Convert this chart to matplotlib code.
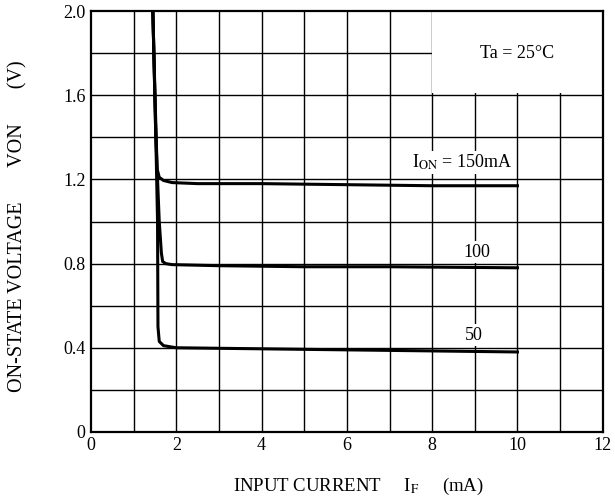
import matplotlib
matplotlib.use("Agg")
from matplotlib import pyplot as plt
from matplotlib.patches import Rectangle

plt.rcParams['font.family'] = ['Liberation Serif', 'DejaVu Serif']
plt.rcParams['mathtext.fontset'] = 'stix'

# on-state voltage vs input current
if_150 = [1.45, 1.5, 1.55, 1.6, 1.7, 1.9, 2.5, 4, 6, 8, 10]
von_150 = [2.0, 1.6, 1.25, 1.21, 1.195, 1.185, 1.18, 1.18, 1.175, 1.17, 1.17]

if_100 = [1.45, 1.52, 1.6, 1.65, 1.68, 1.75, 1.9, 3, 5, 7, 10]
von_100 = [2.0, 1.4, 1.0, 0.85, 0.81, 0.80, 0.795, 0.79, 0.785, 0.785, 0.78]

if_50 = [1.45, 1.52, 1.56, 1.57, 1.6, 1.7, 2.0, 4, 6, 8, 10]
von_50 = [2.0, 1.4, 1.0, 0.5, 0.43, 0.41, 0.40, 0.395, 0.39, 0.385, 0.38]

x_ticks = [0, 2, 4, 6, 8, 10, 12]
y_ticks = [0, 0.4, 0.8, 1.2, 1.6, 2.0]
y_tick_labels = ['0', '0.4', '0.8', '1.2', '1.6', '2.0']

fig = plt.figure(figsize=(6.15, 5.04), dpi=100)
ax = fig.add_axes([0.148, 0.143, 0.832, 0.835])

ax.set_xlim(0, 12)
ax.set_ylim(0, 2.0)

# grid every 1 mA and 0.2 V
for gx in range(1, 12):
    ax.axvline(gx, color='black', lw=1.0, zorder=1)
for i in range(1, 10):
    ax.axhline(i * 0.2, color='black', lw=1.0, zorder=1)

# blank box behind the temperature note
ax.add_patch(Rectangle((8, 1.61), 4, 0.39, facecolor='white', edgecolor='none', zorder=2))

ax.plot(if_150, von_150, color='black', lw=2.2, zorder=3)
ax.plot(if_100, von_100, color='black', lw=2.2, zorder=3)
ax.plot(if_50, von_50, color='black', lw=2.2, zorder=3)

box = dict(facecolor='white', edgecolor='none', pad=1.5)
ax.text(10.0, 1.80, 'Ta = 25°C', fontsize=13, ha='center', va='center', zorder=4)
ax.text(8.7, 1.28, r'I$_{\mathrm{ON}}$ = 150mA', fontsize=13, ha='center', va='center',
        bbox=box, zorder=4)
ax.text(9.05, 0.855, '100', fontsize=13, ha='center', va='center', bbox=box, zorder=4)
ax.text(8.98, 0.46, '50', fontsize=13, ha='center', va='center', bbox=box, zorder=4)

ax.set_xticks(x_ticks)
ax.set_yticks(y_ticks)
ax.set_yticklabels(y_tick_labels)
ax.tick_params(length=0, labelsize=13, pad=4)

for s in ax.spines.values():
    s.set_linewidth(1.6)
    s.set_zorder(5)

fig.text(0.583, 0.034, r'INPUT CURRENT     I$_{\mathrm{F}}$     (mA)', fontsize=13.5,
         ha='center', va='center')
fig.text(0.029, 0.552, 'ON-STATE VOLTAGE       VON       (V)', fontsize=14.5,
         ha='center', va='center', rotation=90)

plt.savefig('out.png', dpi=100)
